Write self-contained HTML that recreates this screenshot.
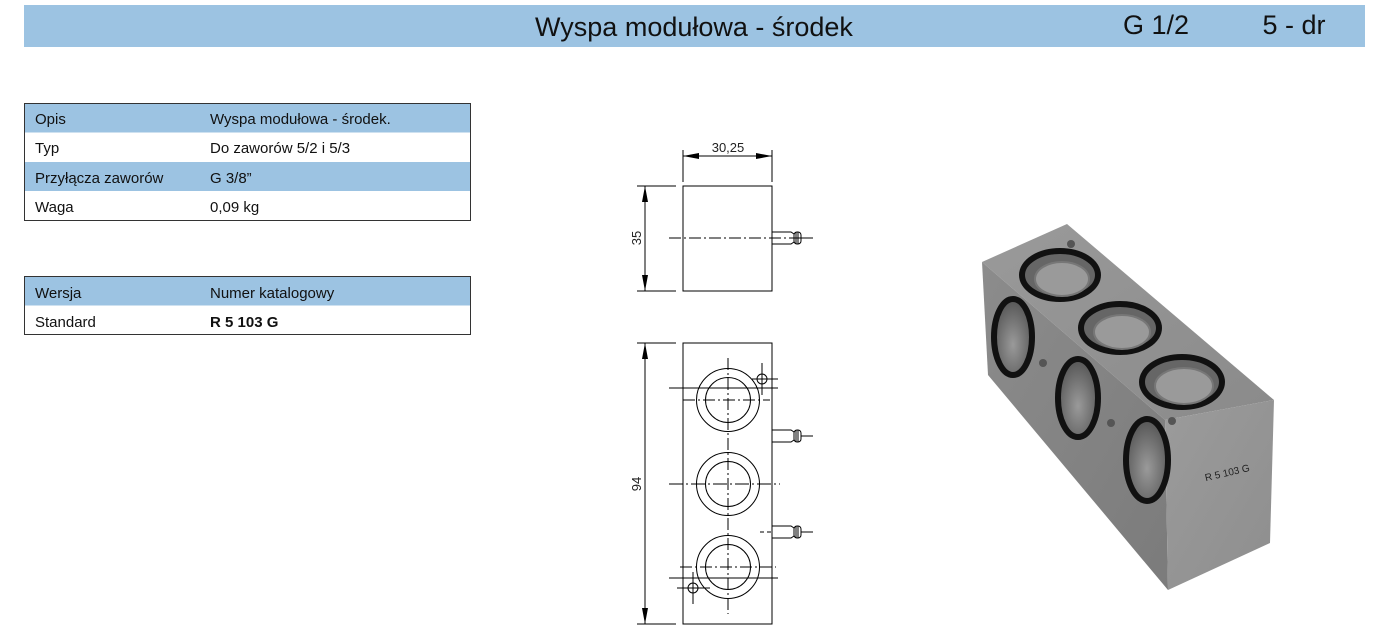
<!DOCTYPE html>
<html><head><meta charset="utf-8"><style>
html,body{margin:0;padding:0;background:#fff;}
svg{display:block}
text{font-family:"Liberation Sans",sans-serif;}
</style></head><body>
<svg width="1373" height="644" viewBox="0 0 1373 644" xmlns="http://www.w3.org/2000/svg">
<defs>
<linearGradient id="gt" x1="0" y1="0" x2="1" y2="1"><stop offset="0" stop-color="#9a9a9a"/><stop offset="1" stop-color="#8a8a8a"/></linearGradient>
<linearGradient id="gl" x1="0" y1="0" x2="1" y2="1"><stop offset="0" stop-color="#8c8c8c"/><stop offset="1" stop-color="#7b7b7b"/></linearGradient>
<linearGradient id="gr" x1="0" y1="0" x2="1" y2="1"><stop offset="0" stop-color="#9b9b9b"/><stop offset="1" stop-color="#8e8e8e"/></linearGradient>
<radialGradient id="hole" cx="0.5" cy="0.6" r="0.6"><stop offset="0" stop-color="#9a9a9a"/><stop offset="1" stop-color="#555"/></radialGradient>
</defs>
<rect x="24" y="5" width="1341" height="42" fill="#9cc3e2"/>
<text x="694" y="36" font-size="27" text-anchor="middle" fill="#111">Wyspa modułowa - środek</text>
<text x="1156" y="34" font-size="27" text-anchor="middle" fill="#111">G 1/2</text>
<text x="1294" y="34" font-size="27" text-anchor="middle" fill="#111">5 - dr</text>

<rect x="24.5" y="103.5" width="446" height="29" fill="#9cc3e2"/>
<rect x="24.5" y="162" width="446" height="29" fill="#9cc3e2"/>
<rect x="24.5" y="103.5" width="446" height="117" fill="none" stroke="#333" stroke-width="1"/>
<g font-size="15" fill="#111">
<text x="35" y="124">Opis</text><text x="210" y="124">Wyspa modułowa - środek.</text>
<text x="35" y="153">Typ</text><text x="210" y="153">Do zaworów 5/2 i 5/3</text>
<text x="35" y="183">Przyłącza zaworów</text><text x="210" y="183">G 3/8”</text>
<text x="35" y="212">Waga</text><text x="210" y="212">0,09 kg</text>
</g>
<rect x="24.5" y="276.5" width="446" height="29" fill="#9cc3e2"/>
<rect x="24.5" y="276.5" width="446" height="58" fill="none" stroke="#333" stroke-width="1"/>
<g font-size="15" fill="#111">
<text x="35" y="298">Wersja</text><text x="210" y="298">Numer katalogowy</text>
<text x="35" y="327">Standard</text><text x="210" y="327" font-weight="bold">R 5 103 G</text>
</g>

<g stroke="#000" stroke-width="1" fill="none">
<rect x="683" y="186" width="89" height="105"/>
<line x1="683" y1="150" x2="683" y2="182"/><line x1="772" y1="150" x2="772" y2="182"/>
<line x1="683" y1="156" x2="772" y2="156"/>
<line x1="637" y1="186" x2="676" y2="186"/><line x1="637" y1="291" x2="676" y2="291"/>
<line x1="645" y1="186" x2="645" y2="291"/>
<line x1="669" y1="238" x2="813" y2="238" stroke-dasharray="12,3,2,3"/>
<rect x="683" y="343" width="89" height="281"/>
<line x1="637" y1="343" x2="676" y2="343"/><line x1="637" y1="624" x2="676" y2="624"/>
<line x1="645" y1="343" x2="645" y2="624"/>
<line x1="728" y1="358" x2="728" y2="614" stroke-dasharray="12,3,2,3"/>
<circle cx="728" cy="400" r="31.5"/><circle cx="728" cy="400" r="22.5"/>
<circle cx="728" cy="484" r="31.5"/><circle cx="728" cy="484" r="22.5"/>
<circle cx="728" cy="567" r="31.5"/><circle cx="728" cy="567" r="22.5"/>
<line x1="669" y1="388" x2="778" y2="388"/>
<line x1="683" y1="400" x2="770" y2="400" stroke-dasharray="12,3,2,3"/>
<line x1="669" y1="484" x2="780" y2="484" stroke-dasharray="14,3,2,3"/>
<line x1="669" y1="578" x2="778" y2="578"/>
<line x1="680" y1="567" x2="776" y2="567" stroke-dasharray="12,3,2,3"/>
<circle cx="762" cy="379" r="5"/><line x1="752" y1="379" x2="778" y2="379"/><line x1="762" y1="363" x2="762" y2="395"/>
<circle cx="693" cy="588" r="5"/><line x1="677" y1="588" x2="710" y2="588"/><line x1="693" y1="572" x2="693" y2="604"/>
</g>
<g fill="#000">
<polygon points="683,156 699,153 699,159"/><polygon points="772,156 756,153 756,159"/>
<polygon points="645,186 642,202 648,202"/><polygon points="645,291 642,275 648,275"/>
<polygon points="645,343 642,359 648,359"/><polygon points="645,624 642,608 648,608"/>
</g>
<g stroke="#000" stroke-width="1" fill="none" id="fit">
<path d="M772 232 H791 L794 234 V242 L791 244 H772"/><rect x="794" y="232" width="7" height="12" rx="3"/><line x1="796" y1="232" x2="796" y2="244"/><line x1="798" y1="232" x2="798" y2="244"/><line x1="801" y1="238" x2="813" y2="238"/>
</g>
<use href="#fit" y="198"/>
<use href="#fit" y="294"/>
<line x1="760" y1="532" x2="772" y2="532" stroke="#000" stroke-dasharray="4,3"/>
<g font-size="13" fill="#222">
<text x="728" y="152" text-anchor="middle">30,25</text>
<text transform="translate(641,238) rotate(-90)" text-anchor="middle">35</text>
<text transform="translate(641,484) rotate(-90)" text-anchor="middle">94</text>
</g>

<polygon points="982,262 1067,224 1274,400 1165,420" fill="url(#gt)"/>
<polygon points="982,262 1165,420 1168,590 988,375" fill="url(#gl)"/>
<polygon points="1165,420 1274,400 1270,543 1168,590" fill="url(#gr)"/>
<g stroke="#111" stroke-width="6">
<ellipse cx="1060" cy="275" rx="38" ry="24" fill="#666"/>
<ellipse cx="1120" cy="328" rx="39" ry="24" fill="#666"/>
<ellipse cx="1182" cy="382" rx="40" ry="25" fill="#666"/>
<ellipse cx="1013" cy="337" rx="19" ry="38" fill="url(#hole)"/>
<ellipse cx="1078" cy="398" rx="20" ry="39" fill="url(#hole)"/>
<ellipse cx="1147" cy="460" rx="21" ry="41" fill="url(#hole)"/>
</g>
<g fill="#9a9a9a" stroke="#777" stroke-width="2">
<ellipse cx="1062" cy="279" rx="27" ry="17"/>
<ellipse cx="1122" cy="332" rx="28" ry="17"/>
<ellipse cx="1184" cy="386" rx="29" ry="18"/>
</g>
<circle cx="1071" cy="244" r="4" fill="#555"/>
<circle cx="1172" cy="421" r="4" fill="#555"/>
<circle cx="1043" cy="363" r="4" fill="#555"/>
<circle cx="1111" cy="423" r="4" fill="#555"/>
<text transform="translate(1228,476) rotate(-13)" font-size="10" fill="#222" text-anchor="middle">R 5 103 G</text>
</svg>
</body></html>
